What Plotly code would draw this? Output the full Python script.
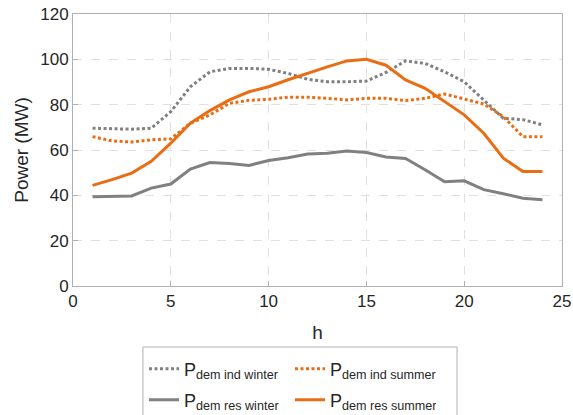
import plotly.graph_objects as go

hours = list(range(1, 25))
ind_winter = [69.6, 69.3, 69.2, 69.6, 76.9, 87.9, 94.5, 96.0, 96.0, 95.6, 93.8, 91.2,
              90.1, 90.1, 90.4, 94.2, 99.3, 98.2, 94.5, 90.1, 82.1, 74.0, 73.4, 71.1]
ind_summer = [65.9, 64.0, 63.5, 64.5, 64.9, 71.8, 75.5, 80.6, 81.9, 82.4, 83.3, 83.3,
              82.8, 82.1, 82.8, 82.8, 81.8, 82.8, 84.7, 82.4, 80.3, 74.7, 65.9, 65.9]
res_winter = [39.4, 39.4, 39.7, 43.2, 45.0, 51.6, 54.5, 54.0, 53.2, 55.4, 56.6, 58.2,
              58.6, 59.6, 58.9, 56.9, 56.3, 51.3, 46.0, 46.4, 42.5, 40.7, 38.7, 38.1]
res_summer = [44.4, 46.9, 49.8, 55.0, 63.0, 71.8, 77.4, 82.1, 85.7, 87.9, 91.0, 94.0,
              96.7, 99.3, 100.0, 97.4, 90.9, 87.2, 81.3, 75.5, 67.4, 56.4, 50.5, 50.5]

names = ["P<sub>dem ind winter</sub>", "P<sub>dem ind summer</sub>",
         "P<sub>dem res winter</sub>", "P<sub>dem res summer</sub>"]
gray = "#808080"
orange = "#ea6d14"
dot = "3px,2.5px"

fig = go.Figure()
fig.add_trace(go.Scatter(x=hours, y=ind_winter, name=names[0], mode="lines",
                         line=dict(color=gray, width=3, dash=dot), legend="legend"))
fig.add_trace(go.Scatter(x=hours, y=ind_summer, name=names[1], mode="lines",
                         line=dict(color=orange, width=3, dash=dot), legend="legend"))
fig.add_trace(go.Scatter(x=hours, y=res_winter, name=names[2], mode="lines",
                         line=dict(color=gray, width=3), legend="legend2"))
fig.add_trace(go.Scatter(x=hours, y=res_summer, name=names[3], mode="lines",
                         line=dict(color=orange, width=3), legend="legend2"))

axis_common = dict(showline=True, linecolor="#b0b0b0", linewidth=1, mirror=True,
                   ticks="inside", ticklen=5, tickcolor="#b0b0b0",
                   showgrid=True, gridcolor="#e0e0e0", griddash="dash", gridwidth=1,
                   zeroline=False, automargin=False,
                   tickfont=dict(size=17, color="#262626"))

leg_common = dict(orientation="h", xanchor="left", yanchor="middle", x=0.1452,
                  entrywidth=101, entrywidthmode="pixels",
                  borderwidth=0, bgcolor="rgba(0,0,0,0)",
                  font=dict(size=18, color="#262626"), itemwidth=30)

fig.update_layout(
    width=573, height=415,
    margin=dict(l=73, r=11, t=14, b=129, autoexpand=False),
    paper_bgcolor="white", plot_bgcolor="white",
    font=dict(family="Liberation Sans, Arial, sans-serif", color="#262626"),
    xaxis=dict(range=[0, 25], tickvals=[0, 5, 10, 15, 20, 25],
               title=dict(text="h", font=dict(size=19), standoff=15), **axis_common),
    yaxis=dict(range=[0, 120], tickvals=[0, 20, 40, 60, 80, 100, 120],
               title=dict(text="Power (MW)", font=dict(size=19), standoff=6), **axis_common),
    legend=dict(y=-0.305, **leg_common),
    legend2=dict(y=-0.419, **leg_common),
    shapes=[dict(type="rect", xref="paper", yref="paper",
                 x0=0.1431, x1=0.7853, y0=-0.2243, y1=-0.4926,
                 line=dict(color="#b0b0b0", width=1), fillcolor="rgba(0,0,0,0)",
                 layer="below")],
)

fig.write_html("out.html", config={"displayModeBar": False},
               post_script=["document.body.style.margin='0px';"
                            "document.body.style.overflow='hidden';"])
